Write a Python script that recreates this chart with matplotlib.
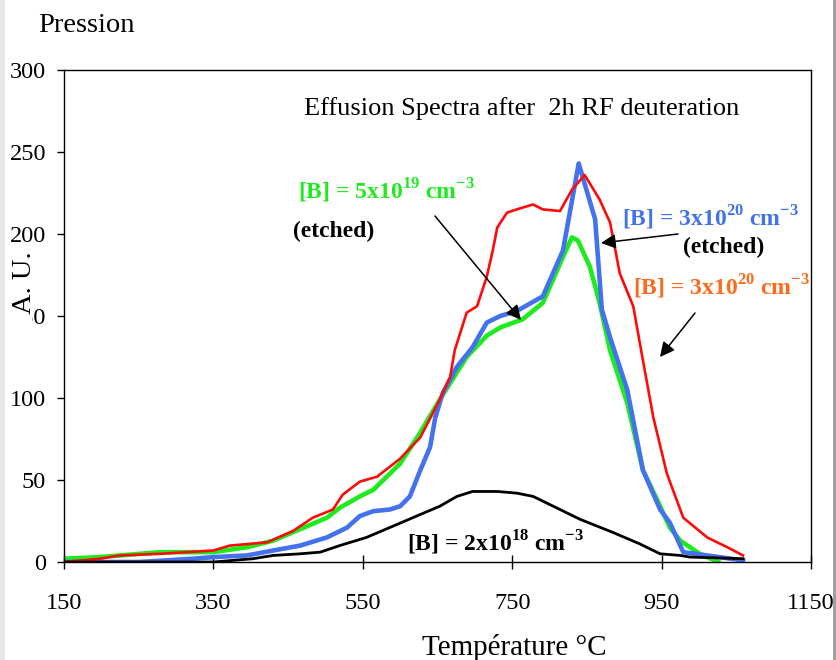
import numpy as np
from matplotlib import pyplot as plt
from matplotlib.patches import Rectangle

# Effusion spectra, values
temp_red = [150, 198, 225, 279, 350, 372, 422, 457, 483, 510, 523, 546, 569, 600, 627, 653, 667, 673,
            689, 703, 716, 724, 730, 743, 756, 778, 791, 814, 830, 847, 867, 881, 894, 912, 925, 939,
            957, 979, 1011, 1038, 1059]
val_red = [0, 2, 4, 5, 7, 10, 12, 19, 27, 32, 41, 49, 52, 63, 76, 99, 113, 129,
           152, 156, 174, 190, 204, 213, 215, 218, 215, 214, 227, 236, 221, 207, 176, 156, 123, 88,
           54, 27, 15, 9, 4]

temp_green = [150, 198, 279, 350, 395, 430, 466, 502, 519, 546, 564, 600, 627, 653, 689, 716, 734,
              764, 791, 818, 830, 838, 854, 867, 881, 904, 925, 944, 961, 975, 1001, 1026]
val_green = [2, 3, 6, 6, 9, 13, 20, 27, 33, 40, 44, 60, 79, 99, 125, 138, 143,
             148, 158, 186, 198, 196, 180, 158, 129, 97, 56, 38, 21, 13, 5, 0]

temp_blue = [150, 250, 323, 350, 395, 430, 466, 502, 529, 546, 564, 586, 600, 613, 627, 640, 647, 657,
             676, 697, 716, 734, 756, 791, 818, 839, 861, 870, 881, 904, 925, 948, 961, 975, 979,
             1011, 1059]
val_blue = [0, 0, 2, 3, 4, 7, 10, 15, 21, 28, 31, 32, 34, 40, 56, 70, 88, 103,
            119, 131, 146, 150, 153, 162, 190, 243, 209, 154, 137, 105, 56, 32, 24, 10, 6,
            4, 1]

temp_black = [150, 350, 403, 430, 466, 493, 519, 555, 586, 622, 653, 676, 697, 730, 756, 778, 805,
              841, 885, 921, 948, 975, 988, 1059]
val_black = [0, 0, 2, 4, 5, 6, 10, 15, 21, 28, 34, 40, 43, 43, 42, 40, 34,
             26, 18, 11, 5, 4, 3, 2]

x_ticks = [150, 350, 550, 750, 950, 1150]
y_ticks = [0, 50, 100, 150, 200, 250, 300]

plt.rcParams['font.family'] = 'Liberation Serif'
plt.rcParams['mathtext.fontset'] = 'custom'
plt.rcParams['mathtext.rm'] = 'Liberation Serif'
plt.rcParams['mathtext.bf'] = 'Liberation Serif:bold'

W, H = 837, 660
fig = plt.figure(figsize=(W / 100, H / 100), dpi=100)
ax = fig.add_axes([64 / W, 98 / H, 747 / W, 492 / H])


def at(px, py):
    # picture pixel -> data coordinates (for placing labels only)
    return 150 + (px - 64) * 1000 / 747, (562 - py) * 300 / 492


ax.plot(temp_green, val_green, color='#1EEB1E', lw=3.3, solid_joinstyle='round')
ax.plot(temp_blue, val_blue, color='#4472EE', lw=3.3, solid_joinstyle='round')
ax.plot(temp_red, val_red, color='#FF0A0A', lw=1.9)
ax.plot(temp_black, val_black, color='black', lw=2.0)

ax.set_xlim(150, 1150)
ax.set_ylim(0, 300)
ax.set_xticks(x_ticks)
ax.set_yticks(y_ticks)
ax.tick_params(axis='x', direction='inout', length=10, width=1, pad=17, labelsize=17.5)
ax.tick_params(axis='y', direction='out', length=5, width=1, pad=8, labelsize=17.5)
for s in ax.spines.values():
    s.set_linewidth(1)

ax.text(*at(522, 115), 'Effusion Spectra after  2h RF deuteration', ha='center', va='baseline', fontsize=19)

bold = dict(fontweight='bold', fontsize=17, va='baseline')
ax.text(*at(298, 199), r'[B] = 5x10$^{\mathbf{19}}$ cm$^{\mathbf{-3}}$', color='#1EEB1E', **bold)
ax.text(*at(293, 237), '(etched)', color='black', **bold)
ax.text(*at(622, 226), r'[B] = 3x10$^{\mathbf{20}}$ cm$^{\mathbf{-3}}$', color='#4472EE', **bold)
ax.text(*at(683, 253), '(etched)', color='black', **bold)
ax.text(*at(633, 295), r'[B] = 3x10$^{\mathbf{20}}$ cm$^{\mathbf{-3}}$', color='#FF6A1A', **bold)
ax.text(*at(407, 551), r'[B] = 2x10$^{\mathbf{18}}$ cm$^{\mathbf{-3}}$', color='black', **bold)

arrow = dict(arrowstyle='-|>', color='black', lw=1.1, mutation_scale=22, shrinkA=0, shrinkB=0)
ax.annotate('', xy=at(521, 320), xytext=at(435, 216), arrowprops=arrow)
ax.annotate('', xy=at(601, 243), xytext=at(678, 234), arrowprops=arrow)
ax.annotate('', xy=at(660, 357), xytext=at(695, 313), arrowprops=arrow)

fig.text(38 / W, 1 - 32 / H, 'Pression', ha='left', va='baseline', fontsize=20.5)
fig.text(514 / W, 1 - 655 / H, 'Température °C', ha='center', va='baseline', fontsize=21)

# white patch hiding the "15" of the 150 label, as in the original
fig.patches.append(Rectangle((5 / W, 1 - 326 / H), 27 / W, 22 / H, transform=fig.transFigure,
                             facecolor='white', edgecolor='none', zorder=1))
fig.text(25 / W, 1 - 283 / H, 'A. U.', rotation=90, ha='center', va='center', fontsize=20.5)

# grey frame edges of the original screenshot
fig.patches.append(Rectangle((0, 0), 5 / W, 1, transform=fig.transFigure, facecolor='#E6E6E6', edgecolor='none'))
fig.patches.append(Rectangle((833 / W, 0), 4 / W, 1, transform=fig.transFigure, facecolor='#A0A0A0', edgecolor='none'))

fig.savefig('out.png', dpi=100)
